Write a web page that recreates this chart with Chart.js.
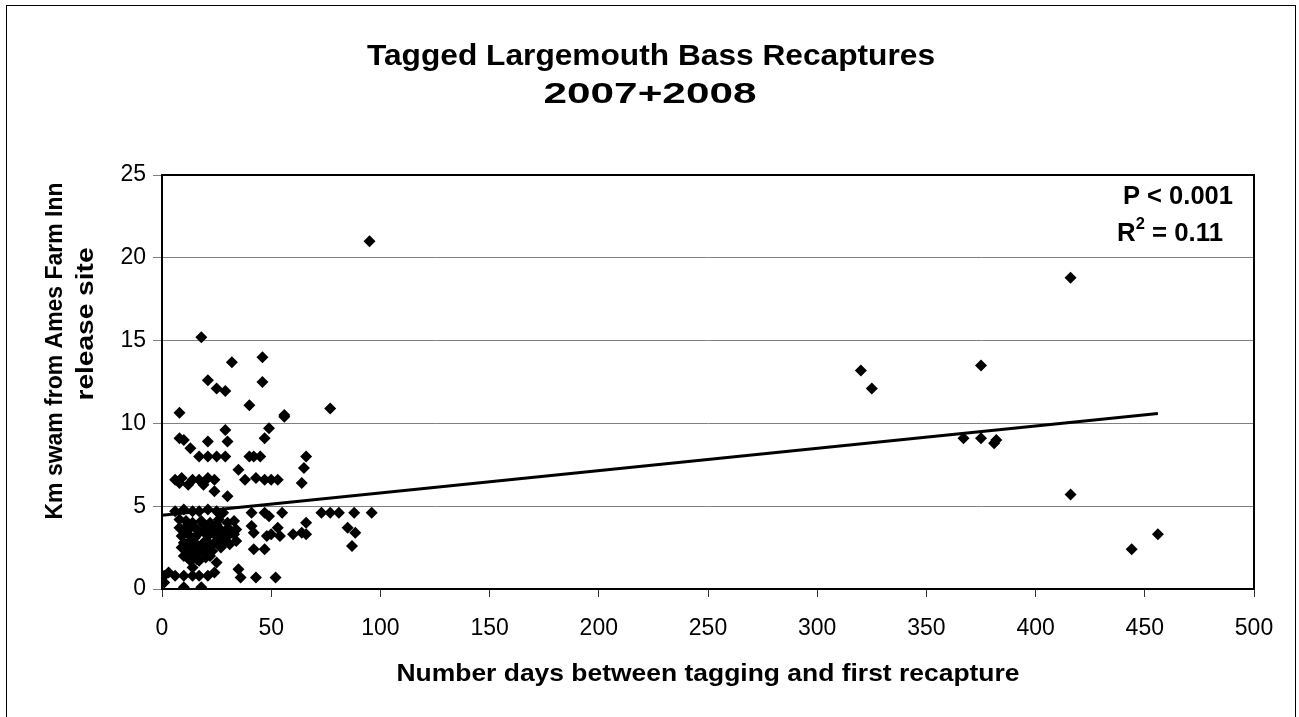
<!DOCTYPE html>
<html>
<head>
<meta charset="utf-8">
<script src="https://cdn.jsdelivr.net/npm/chart.js@4/dist/chart.umd.min.js"></script>
<style>
  html, body { margin: 0; padding: 0; background: #fff; }
  #wrap { position: relative; width: 1299px; height: 717px; overflow: hidden; }
  #frame { position: absolute; left: 6px; top: 5px; width: 1290px; height: 800px; border: 1px solid #000; box-sizing: border-box; }
  #c { position: absolute; left: 0; top: 0; }
</style>
</head>
<body>
<div id="wrap">
  <div id="frame"></div>
  <canvas id="c" width="1299" height="717"></canvas>
</div>
<script>
// ---- data (days between tagging and first recapture, km swam) ----
const days = [
  320, 325, 367, 375, 375, 381, 382, 416, 416, 444, 456,
  95, 18, 32, 46, 21, 46, 25, 29, 40, 56, 56, 77, 8,
  29, 49, 8, 10, 47, 13, 21, 30,
  17, 21, 25, 29, 40, 42, 45, 66, 35, 65,
  6, 9, 14, 17, 21, 24, 38, 43, 47, 50, 53, 64,
  8, 12, 19, 24, 30,
  6, 10, 14, 17, 21, 25, 28, 41, 47, 49, 55, 73, 77, 81, 88, 96,
  8, 11, 14, 18, 22, 26, 30, 33,
  8, 10, 13, 16, 20, 23, 27, 31,
  9, 12, 15, 21, 24, 27, 30, 33,
  10, 13, 16, 19, 22, 26, 29,
  11, 14, 18, 23, 27,
  12, 15, 20, 25, 17, 14, 24,
  1, 6, 10, 14, 17, 21, 1, 3, 10, 18,
  35, 36, 43, 52,
  32, 41, 42, 42, 47, 48, 50, 53, 54, 60, 64, 66, 66, 85, 87, 88.5,
  9, 12, 15, 17, 19, 21, 24, 28, 31, 17, 20, 10, 13, 16, 22, 26, 34, 12, 19, 25, 29, 34
];
const km = [
  13.2, 12.1, 9.1, 13.5, 9.1, 8.8, 9.0, 18.8, 5.7, 2.4, 3.3,
  21.0, 15.2, 13.7, 14.0, 12.6, 12.5, 12.1, 11.95, 11.1, 10.5, 10.4, 10.9, 10.65,
  9.6, 9.7, 9.1, 9.0, 9.1, 8.5, 8.9, 8.9,
  8.0, 8.0, 8.0, 8.0, 8.0, 8.0, 8.0, 8.0, 7.2, 7.3,
  6.6, 6.7, 6.6, 6.6, 6.7, 6.6, 6.6, 6.7, 6.6, 6.6, 6.6, 6.4,
  6.4, 6.3, 6.3, 5.9, 5.6,
  4.7, 4.8, 4.7, 4.7, 4.8, 4.7, 4.6, 4.6, 4.6, 4.4, 4.6, 4.6, 4.6, 4.6, 4.6, 4.6,
  4.2, 4.1, 4.0, 4.1, 4.0, 4.2, 4.0, 4.1,
  3.7, 3.5, 3.7, 3.6, 3.8, 3.6, 3.5, 3.6,
  3.2, 3.3, 3.1, 3.2, 3.3, 3.0, 3.2, 3.3,
  2.8, 2.9, 2.6, 2.8, 2.7, 2.7, 2.9,
  2.4, 2.3, 2.4, 2.3, 2.5,
  2.0, 1.9, 1.9, 1.6, 1.7, 1.3, 1.0,
  0.8, 0.8, 0.8, 0.8, 0.8, 0.8, 0.4, 1.0, 0.1, 0.1,
  1.2, 0.7, 0.7, 0.7,
  3.4, 3.8, 3.4, 2.4, 2.4, 3.2, 3.3, 3.7, 3.2, 3.3, 3.4, 4.0, 3.3, 3.7, 2.6, 3.4,
  2.5, 2.6, 2.8, 3.4, 3.5, 2.6, 2.8, 3.4, 2.7, 2.2, 2.3, 2.0, 1.7, 1.8, 2.0, 3.7, 3.6, 3.9, 3.9, 3.9, 3.5, 2.9
];
// linear trend
const trendDays = [0, 456];
const trendKm = [4.45, 10.6];
// axis ticks
const xTicks = [0, 50, 100, 150, 200, 250, 300, 350, 400, 450, 500];
const yTicks = [0, 5, 10, 15, 20, 25];
// texts
const titleLines = ['Tagged Largemouth Bass Recaptures', '2007+2008'];
const xTitle = 'Number days between tagging and first recapture';
const yTitleLines = ['Km swam from Ames Farm Inn', 'release site'];
const statP = 'P < 0.001';
const statR = ['R', '2', ' = 0.11'];

const FONT = '"Liberation Sans", Arial, sans-serif';

const points = days.map((d, i) => ({ x: d, y: km[i] }));
const trend = trendDays.map((d, i) => ({ x: d, y: trendKm[i] }));

// draw text centred at (cx, cy), stretched horizontally to a target width
function drawFit(ctx, text, cx, cy, targetW, rotate) {
  ctx.save();
  const w = ctx.measureText(text).width;
  const sx = targetW ? targetW / w : 1;
  ctx.translate(cx, cy);
  if (rotate) ctx.rotate(-Math.PI / 2);
  ctx.scale(sx, 1);
  ctx.textAlign = 'center';
  ctx.textBaseline = 'middle';
  ctx.fillText(text, 0, 0);
  ctx.restore();
}

const decorPlugin = {
  id: 'decor',
  afterDatasetsDraw(chart) {
    const { ctx, chartArea: a } = chart;
    ctx.save();
    ctx.strokeStyle = '#000';
    ctx.lineWidth = 2;
    ctx.strokeRect(a.left, a.top, a.right - a.left, a.bottom - a.top);
    ctx.restore();
  },
  afterDraw(chart) {
    const { ctx } = chart;
    ctx.save();
    ctx.fillStyle = '#000';
    // chart title
    ctx.font = 'bold 30px ' + FONT;
    drawFit(ctx, titleLines[0], 651, 57, 568, false);
    drawFit(ctx, titleLines[1], 650, 95, 213, false);
    // x axis title
    ctx.font = 'bold 24px ' + FONT;
    drawFit(ctx, xTitle, 708, 674, 623, false);
    // y axis title (two lines, rotated)
    ctx.font = 'bold 23px ' + FONT;
    drawFit(ctx, yTitleLines[0], 56, 351, 337, true);
    drawFit(ctx, yTitleLines[1], 87, 324, 153, true);
    // statistics annotation
    const big = 'bold 25px ' + FONT, small = 'bold 16px ' + FONT;
    ctx.font = big;
    drawFit(ctx, statP, 1233 - 55, 197, 110, false);
    ctx.font = big; const w3 = ctx.measureText(statR[2]).width;
    ctx.font = small; const w2 = ctx.measureText(statR[1]).width;
    ctx.font = big; const w1 = ctx.measureText(statR[0]).width;
    const total = w1 + w2 + w3;
    const sx = 106 / total;
    ctx.save();
    ctx.translate(1223 - 106, 234);
    ctx.scale(sx, 1);
    ctx.textAlign = 'left';
    ctx.textBaseline = 'middle';
    ctx.font = big; ctx.fillText(statR[0], 0, 0);
    ctx.font = small; ctx.fillText(statR[1], w1, -9);
    ctx.font = big; ctx.fillText(statR[2], w1 + w2, 0);
    ctx.restore();
    ctx.restore();
  }
};

new Chart(document.getElementById('c'), {
  type: 'scatter',
  data: {
    datasets: [
      {
        label: 'Recaptures',
        data: points,
        pointStyle: 'rectRot',
        pointRadius: 6,
        pointHoverRadius: 6,
        backgroundColor: '#000',
        borderColor: '#000',
        borderWidth: 0,
        order: 2
      },
      {
        type: 'line',
        label: 'Trend',
        data: trend,
        borderColor: '#000',
        borderWidth: 3,
        pointRadius: 0,
        fill: false,
        order: 1
      }
    ]
  },
  plugins: [decorPlugin],
  options: {
    responsive: false,
    animation: false,
    devicePixelRatio: 1,
    layout: { padding: { left: 0, right: 45, top: 175, bottom: 0 } },
    plugins: {
      legend: { display: false },
      tooltip: { enabled: false },
      title: { display: false }
    },
    scales: {
      x: {
        type: 'linear',
        min: 0,
        max: 500,
        afterBuildTicks(scale) { scale.ticks = xTicks.map(v => ({ value: v })); },
        afterFit(scale) { scale.height = 128; },
        ticks: { color: '#000', font: { family: FONT, size: 23 }, padding: 18, maxRotation: 0 },
        grid: { drawOnChartArea: false, drawTicks: true, tickLength: 8, tickColor: '#333', color: '#333' },
        border: { display: true, color: '#000', width: 2 },
        title: { display: false, text: xTitle }
      },
      y: {
        type: 'linear',
        min: 0,
        max: 25,
        afterBuildTicks(scale) { scale.ticks = yTicks.map(v => ({ value: v })); },
        afterFit(scale) { scale.width = 162; },
        ticks: { color: '#000', font: { family: FONT, size: 23 }, padding: 7 },
        grid: { color: '#808080', lineWidth: 1, drawTicks: true, tickLength: 9, tickColor: '#808080' },
        border: { display: true, color: '#000', width: 2 },
        title: { display: false, text: yTitleLines }
      }
    }
  }
});
</script>
</body>
</html>
